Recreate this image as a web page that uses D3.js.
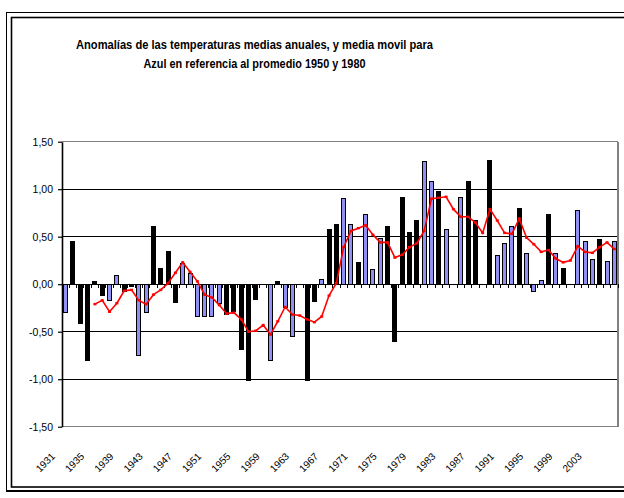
<!DOCTYPE html>
<html><head><meta charset="utf-8">
<script src="https://cdn.jsdelivr.net/npm/d3@7/dist/d3.min.js"></script>
<style>body{margin:0;background:#fff}svg{display:block}</style>
</head><body>
<svg id="chart" width="624" height="498"></svg>
<script>
// ---- data ----
const years = [1931,1932,1933,1934,1935,1936,1937,1938,1939,1940,1941,1942,1943,1944,1945,1946,1947,1948,1949,1950,
  1951,1952,1953,1954,1955,1956,1957,1958,1959,1960,1961,1962,1963,1964,1965,1966,1967,1968,1969,1970,
  1971,1972,1973,1974,1975,1976,1977,1978,1979,1980,1981,1982,1983,1984,1985,1986,1987,1988,1989,1990,
  1991,1992,1993,1994,1995,1996,1997,1998,1999,2000,2001,2002,2003,2004,2005,2006];
const anomalies = [-0.30,0.45,-0.41,-0.80,0.03,-0.12,-0.17,0.09,-0.08,-0.02,-0.75,-0.30,0.61,0.17,0.34,-0.19,0.22,0.11,-0.34,-0.34,
  -0.34,-0.20,-0.32,-0.29,-0.69,-1.01,-0.16,0.00,-0.80,0.03,-0.24,-0.55,0.00,-1.01,-0.18,0.05,0.58,0.63,0.90,0.63,
  0.23,0.73,0.15,0.48,0.61,-0.60,0.91,0.54,0.67,1.29,1.08,0.975,0.58,0.00,0.91,1.08,0.67,0.00,1.30,0.30,
  0.43,0.61,0.80,0.32,-0.08,0.035,0.73,0.32,0.165,0.00,0.78,0.445,0.26,0.47,0.24,0.445];
const movingAvg = [null,null,null,null,-0.21,-0.17,-0.29,-0.20,-0.07,-0.06,-0.17,-0.21,-0.11,-0.06,0.01,0.12,0.23,0.13,0.03,-0.11,
  -0.14,-0.22,-0.31,-0.30,-0.37,-0.50,-0.49,-0.43,-0.53,-0.39,-0.24,-0.32,-0.33,-0.37,-0.40,-0.34,-0.12,0.01,0.39,0.56,
  0.59,0.62,0.52,0.44,0.44,0.28,0.31,0.39,0.43,0.56,0.90,0.91,0.92,0.79,0.71,0.71,0.65,0.54,0.79,0.67,
  0.54,0.53,0.69,0.49,0.42,0.34,0.36,0.27,0.23,0.25,0.40,0.34,0.33,0.39,0.44,0.37];
const tickLabels = ["1931","1935","1939","1943","1947","1951","1955","1959","1963","1967","1971","1975","1979","1983","1987","1991","1995","1999","2003"];
const yTicks = [-1.5,-1.0,-0.5,0,0.5,1.0,1.5];
const titleLines = ["Anomalías de las temperaturas medias anuales, y media movil para",
                    "Azul en referencia al promedio 1950 y 1980"];

// ---- style ----
const darkYears = new Set([1932,1933,1934,1935,1936,1939,1940,1943,1944,1945,1946,1953,1954,1955,1956,1957,1960,1964,1965,
  1967,1968,1971,1975,1976,1977,1978,1979,1982,1986,1987,1989,1993,1997,1999,2004]);
const BLUE = "#9090f4";
const narrow = "'Liberation Sans Narrow','Arial Narrow','Liberation Sans',Arial,sans-serif";
const regular = "'Liberation Sans',Arial,sans-serif";

const svg = d3.select("#chart");
const P = {l:62, r:618, t:141.7, b:426.7};

const x = d3.scaleBand().domain(years).range([P.l, P.r]).padding(0);
const y = d3.scaleLinear().domain([-1.5, 1.5]).range([P.b, P.t]);
const cx = yr => x(yr) + x.bandwidth()/2;

// frame
svg.append("rect").attr("x",6.5).attr("y",12.5).attr("width",660).attr("height",478)
  .attr("fill","none").attr("stroke","#000").attr("stroke-width",1);
svg.append("line").attr("x1",6).attr("x2",630).attr("y1",491).attr("y2",491).attr("stroke","#000").attr("stroke-width",2);
svg.append("rect").attr("x",11.5).attr("y",17.5).attr("width",660).attr("height",469.5)
  .attr("fill","none").attr("stroke","#000").attr("stroke-width",1.6);

// title
titleLines.forEach((t,i) => {
  svg.append("text").attr("x",254.5).attr("y",[49,67.5][i])
    .attr("text-anchor","middle").attr("font-family",narrow).attr("font-weight","bold")
    .attr("font-size",13).attr("textLength",[357,222][i]).attr("lengthAdjust","spacingAndGlyphs")
    .text(t);
});

// gridlines
const grid = svg.append("g").attr("shape-rendering","crispEdges");
yTicks.forEach(v => {
  const edge = (v === 1.5 || v === -1.5);
  grid.append("line").attr("x1",P.l).attr("x2",P.r).attr("y1",y(v)).attr("y2",y(v))
    .attr("stroke", edge ? "#808080" : "#000").attr("stroke-width", edge ? 1.2 : 1);
});
grid.append("line").attr("x1",P.r).attr("x2",P.r).attr("y1",P.t).attr("y2",P.b)
  .attr("stroke","#808080").attr("stroke-width",1.2);

// bars
const barW = 4;
svg.append("g").attr("shape-rendering","crispEdges").selectAll("rect")
  .data(years.map((yr,i)=>({yr, v:anomalies[i]})).filter(d=>d.v!==0))
  .join("rect")
  .attr("x", d => cx(d.yr) - barW/2)
  .attr("width", barW)
  .attr("y", d => y(Math.max(0,d.v)))
  .attr("height", d => Math.abs(y(d.v) - y(0)))
  .attr("fill", d => darkYears.has(d.yr) ? "#000" : BLUE)
  .attr("stroke","#000").attr("stroke-width",1);

// category ticks on zero line
const ticksG = svg.append("g").attr("shape-rendering","crispEdges");
years.concat([null]).forEach(yr => {
  const xx = yr === null ? P.r : x(yr);
  ticksG.append("line").attr("x1",xx).attr("x2",xx).attr("y1",y(0)).attr("y2",y(0)+4)
    .attr("stroke","#000").attr("stroke-width",1);
});

// y axis
const yAxis = d3.axisLeft(y).tickValues(yTicks).tickSize(4).tickSizeOuter(0).tickPadding(5)
  .tickFormat(d => d3.format(".2f")(d).replace(".", ",").replace("−","-"));
const ya = svg.append("g").attr("transform",`translate(${P.l},0)`).call(yAxis);
ya.select(".domain").attr("stroke","#000").attr("stroke-width",1.6);
ya.selectAll(".tick line").attr("stroke","#000").attr("stroke-width",1.2);
ya.selectAll("text").attr("font-family",regular).attr("font-size",10.5).attr("fill","#000");

// x labels
const xl = svg.append("g");
tickLabels.forEach(lbl => {
  const yr = +lbl;
  xl.append("text").attr("text-anchor","end")
    .attr("transform",`translate(${cx(yr)-10},457) rotate(-45)`)
    .attr("font-family",narrow).attr("font-size",10).attr("fill","#000")
    .text(lbl);
});

// moving average
const ma = years.map((yr,i)=>({yr, v:movingAvg[i]})).filter(d=>d.v!==null);
svg.append("path").datum(ma)
  .attr("fill","none").attr("stroke","#ff0000").attr("stroke-width",1.6)
  .attr("d", d3.line().x(d=>cx(d.yr)).y(d=>y(d.v)));
svg.append("g").selectAll("rect").data(ma).join("rect")
  .attr("x",d=>cx(d.yr)-1.5).attr("y",d=>y(d.v)-1.2).attr("width",3).attr("height",2.4)
  .attr("fill","#ff0000");
</script>
</body></html>
